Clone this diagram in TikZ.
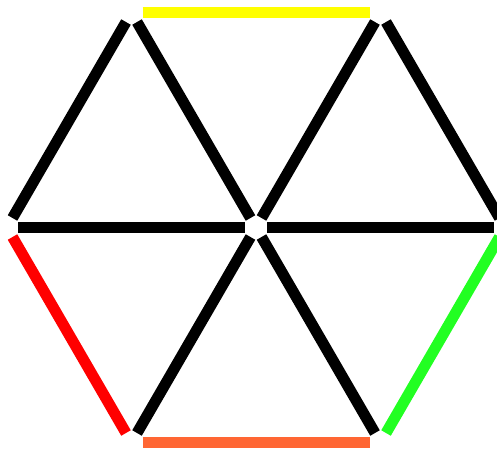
\documentclass[tikz,border=0pt]{standalone}
\definecolor{stickyellow}{RGB}{255,255,0}
\definecolor{stickred}{RGB}{255,0,0}
\definecolor{stickgreen}{RGB}{34,255,34}
\definecolor{stickorange}{RGB}{255,102,51}
\begin{document}
\begin{tikzpicture}[x=1pt,y=-1pt,
  stick/.style={line width=11pt,shorten >=11pt,shorten <=11pt,draw=black}]
\clip (0,0) rectangle (497,451);
\useasboundingbox (0,0) rectangle (497,451);
\coordinate (C)  at (256,227.5);
\coordinate (TL) at (131.5,12.5);
\coordinate (TR) at (380.5,12.5);
\coordinate (L)  at (7,227.5);
\coordinate (R)  at (505,227.5);
\coordinate (BL) at (131.5,442.5);
\coordinate (BR) at (380.5,442.5);
\draw[stick,draw=stickyellow] (TL) -- (TR);
\draw[stick] (TL) -- (L);
\draw[stick] (TL) -- (C);
\draw[stick] (TR) -- (C);
\draw[stick] (TR) -- (R);
\draw[stick] (L) -- (C);
\draw[stick] (C) -- (R);
\draw[stick,draw=stickred] (L) -- (BL);
\draw[stick] (BL) -- (C);
\draw[stick] (C) -- (BR);
\draw[stick,draw=stickgreen] (BR) -- (R);
\draw[stick,draw=stickorange] (BL) -- (BR);
\end{tikzpicture}
\end{document}
